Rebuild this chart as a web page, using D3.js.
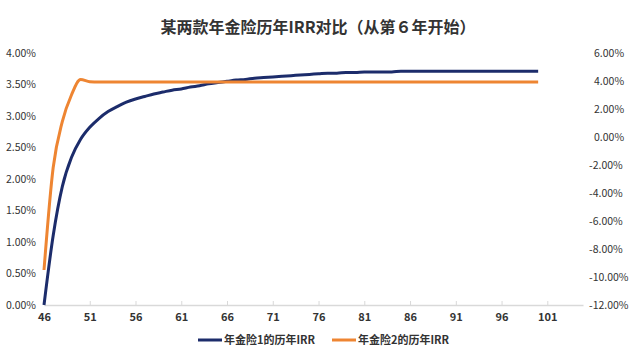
<!DOCTYPE html>
<html>
<head>
<meta charset="utf-8">
<script src="https://cdn.jsdelivr.net/npm/d3@7"></script>
<style>
  body { margin: 0; background: #fff; }
  text { font-family: "Noto Sans CJK SC", "Noto Sans", sans-serif; }
</style>
</head>
<body>
<div id="chart"></div>
<script>
// 数据
const years = d3.range(46, 101);
const irr1 = [0, 1.10, 1.88, 2.34, 2.63, 2.82, 2.96, 3.07, 3.15, 3.22,
  3.27, 3.31, 3.35, 3.38, 3.41, 3.43, 3.46, 3.48, 3.51, 3.53,
  3.55, 3.57, 3.58, 3.60, 3.61, 3.62, 3.63, 3.64, 3.65, 3.66,
  3.67, 3.68, 3.68, 3.69, 3.69, 3.70, 3.70, 3.70, 3.70, 3.71,
  3.71, 3.71, 3.71, 3.71, 3.71, 3.71, 3.71, 3.71, 3.71, 3.71,
  3.71, 3.71, 3.71, 3.71, 3.71];
const irr2 = [-9.5, -2.2, 1.1, 3.0, 4.1, 3.95, 3.92, 3.92, 3.92, 3.92,
  3.92, 3.92, 3.92, 3.92, 3.92, 3.92, 3.92, 3.92, 3.92, 3.92,
  3.92, 3.92, 3.92, 3.92, 3.92, 3.92, 3.92, 3.92, 3.92, 3.92,
  3.92, 3.92, 3.92, 3.92, 3.92, 3.92, 3.92, 3.92, 3.92, 3.92,
  3.92, 3.92, 3.92, 3.92, 3.92, 3.92, 3.92, 3.92, 3.92, 3.92,
  3.92, 3.92, 3.92, 3.92, 3.92];
const xTicks = [46, 51, 56, 61, 66, 71, 76, 81, 86, 91, 96, 101];
const leftTicks = [0, 0.5, 1, 1.5, 2, 2.5, 3, 3.5, 4];
const rightTicks = [-12, -10, -8, -6, -4, -2, 0, 2, 4, 6];
const seriesNames = ['年金险1的历年IRR', '年金险2的历年IRR'];
const colors = ['#1c2c6b', '#ee8532'];
const title = '某两款年金险历年IRR对比（从第６年开始）';

const width = 640, height = 355;
const pLeft = 44, pRight = 583, pTop = 53, pBottom = 305;

let svg = d3.select('#chart').append('svg')
  .attr('width', width).attr('height', height);

const xScale = d3.scaleLinear().domain([46, 104.9]).range([pLeft, pRight]);
const yLeft = d3.scaleLinear().domain([0, 4]).range([pBottom, pTop]);
const yRight = d3.scaleLinear().domain([-12, 6]).range([pBottom, pTop]);

// 标题
svg.append('text')
  .attr('x', 318).attr('y', 33)
  .attr('text-anchor', 'middle')
  .style('font-size', '16px').style('font-weight', 'bold')
  .style('fill', '#333')
  .text(title);

// x轴
const xAxis = d3.axisBottom(xScale).tickValues(xTicks).tickSize(0).tickPadding(8);
let gx = svg.append('g').attr('transform', `translate(0,${pBottom})`).call(xAxis);
gx.select('.domain').attr('stroke', '#d9d9d9').attr('stroke-width', 1.5);
gx.selectAll('.tick').append('line').attr('y2', -4).attr('stroke', '#d9d9d9');
gx.selectAll('text').style('font-size', '11px').style('fill', '#333').style('font-weight', 'bold');

// 左y轴
const yAxisL = d3.axisLeft(yLeft).tickValues(leftTicks).tickSize(0).tickPadding(8)
  .tickFormat(d => d.toFixed(2) + '%');
let gl = svg.append('g').attr('transform', `translate(${pLeft},0)`).call(yAxisL);
gl.select('.domain').remove();
gl.selectAll('text').style('font-size', '10.5px').style('fill', '#333');

// 右y轴
const yAxisR = d3.axisRight(yRight).tickValues(rightTicks).tickSize(0).tickPadding(11)
  .tickFormat(d => d.toFixed(2) + '%');
let gr = svg.append('g').attr('transform', `translate(${pRight},0)`).call(yAxisR);
gr.select('.domain').remove();
gr.selectAll('text').style('font-size', '10.5px').style('fill', '#333')
  .attr('dx', d => d < 0 ? -5 : 0);

// 折线
const line1 = d3.line()
  .x((d, i) => xScale(years[i]))
  .y(d => yLeft(d))
  .curve(d3.curveMonotoneX);
const line2 = d3.line()
  .x((d, i) => xScale(years[i]))
  .y(d => yRight(d))
  .curve(d3.curveMonotoneX);

svg.append('path').attr('d', line1(irr1))
  .attr('fill', 'none').attr('stroke', colors[0]).attr('stroke-width', 3);
svg.append('path').attr('d', line2(irr2))
  .attr('fill', 'none').attr('stroke', colors[1]).attr('stroke-width', 3);

// 图例
const legendX = [198, 332];
seriesNames.forEach((name, i) => {
  let g = svg.append('g').attr('transform', `translate(${legendX[i]},340)`);
  g.append('line').attr('x1', 0).attr('x2', 24).attr('y1', 0).attr('y2', 0)
    .attr('stroke', colors[i]).attr('stroke-width', 3);
  g.append('text').attr('x', 26).attr('y', 4)
    .style('font-size', '11px').style('font-weight', 'bold').style('fill', '#333')
    .text(name);
});
</script>
</body>
</html>
